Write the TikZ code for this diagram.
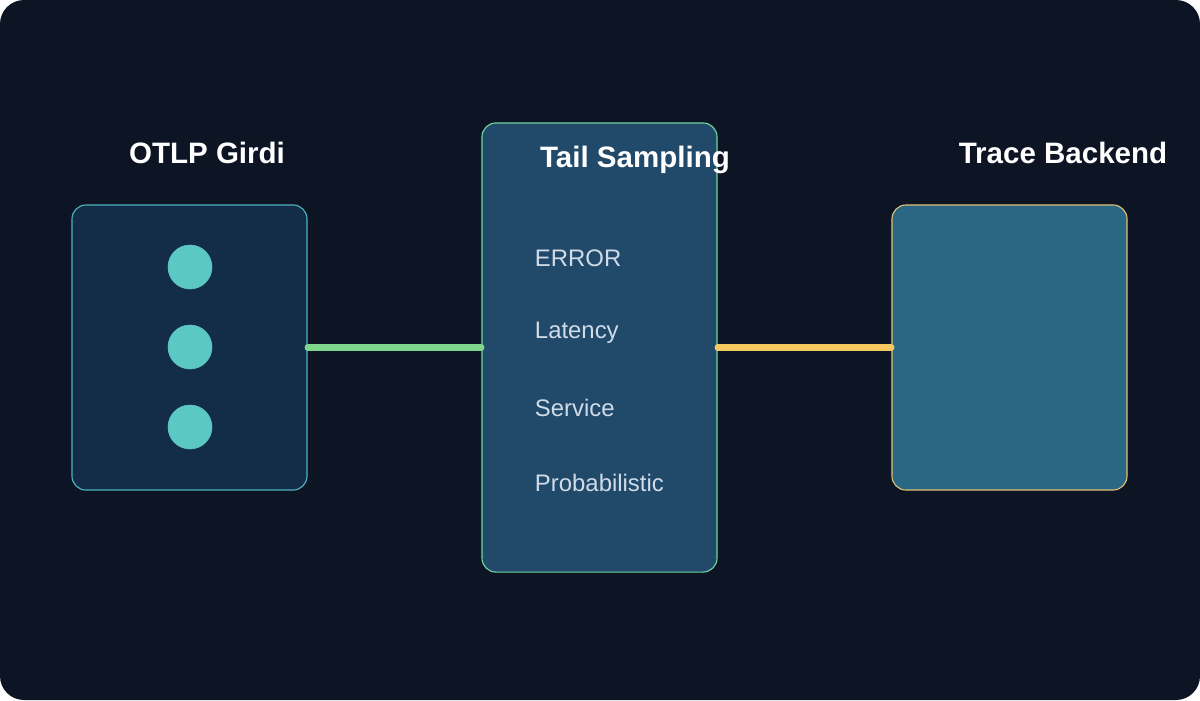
\documentclass[tikz,border=0pt]{standalone}
\usepackage{fontspec}
\setmainfont{Liberation Sans}
\usetikzlibrary{positioning}

\definecolor{bgdark}{HTML}{0D1424}
\definecolor{inbox}{HTML}{132C48}
\definecolor{inedge}{HTML}{4FB3BF}
\definecolor{midbox}{HTML}{214A6A}
\definecolor{midedge}{HTML}{6FD6A0}
\definecolor{outbox}{HTML}{2A6785}
\definecolor{outedge}{HTML}{E0C070}
\definecolor{dotfill}{HTML}{5BC8C4}
\definecolor{itemtext}{HTML}{D0DBE8}
\definecolor{greenlink}{HTML}{7ED68C}
\definecolor{yellowlink}{HTML}{F5C860}

\tikzset{
  panel/.style={draw, rounded corners=0.35cm, line width=0.8pt, minimum width=5.875cm, inner sep=0pt},
  heading/.style={text=white, font=\fontsize{21}{24}\selectfont\bfseries},
  rule/.style={text=itemtext, font=\fontsize{17}{20}\selectfont, anchor=west},
  stream/.style={draw=dotfill, fill=dotfill, circle, minimum size=1.1cm, inner sep=0pt},
  link/.style={line width=4.3pt, line cap=round}
}

\begin{document}
\begin{tikzpicture}[x=0.025cm, y=-0.025cm]
  % Background
  \fill[white] (0,0) rectangle (1200,700);
  \fill[bgdark, rounded corners=0.6cm] (0,0) rectangle (1200,700);
  \useasboundingbox (0,0) rectangle (1200,700);
  % Panels
  \node[panel, fill=inbox, draw=inedge, minimum height=7.125cm] (otlp) at (189.5,347.5) {};
  \node[panel, fill=midbox, draw=midedge, minimum height=11.225cm] (tail) at (599.5,347.5) {};
  \node[panel, fill=outbox, draw=outedge, minimum height=7.125cm] (backend) at (1009.5,347.5) {};
  % Headings
  \node[heading] (otlptitle) at (207,153) {OTLP Girdi};
  \node[heading] (tailtitle) at (635,160) {Tail Sampling};
  \node[heading] (backendtitle) at (1063,153) {Trace Backend};
  % Incoming spans
  \foreach \y [count=\i] in {267,347,427}
    \node[stream] (span\i) at (190,\y) {};
  % Sampling rules
  \node[rule] (error) at (530,258) {ERROR};
  \node[rule] (latency) at (530,333) {Latency};
  \node[rule] (service) at (530,408) {Service};
  \node[rule] (prob) at (530,483) {Probabilistic};
  % Links
  \draw[link, greenlink] (otlp.east) -- (tail.west);
  \draw[link, yellowlink] (tail.east) -- (backend.west);
\end{tikzpicture}
\end{document}
